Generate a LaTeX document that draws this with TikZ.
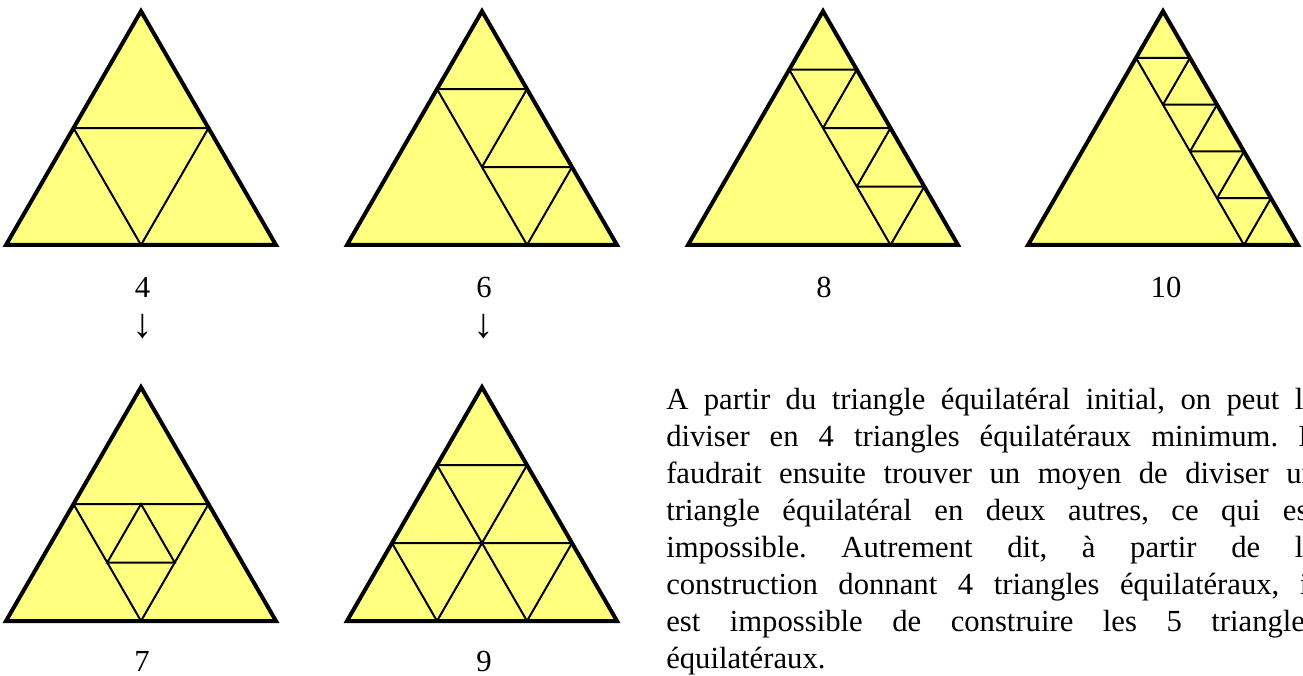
\documentclass[tikz,border=0pt]{standalone}
\usepackage{fontspec}
\setmainfont{Liberation Serif}
\usepackage{tikz}
\usetikzlibrary{positioning}
\definecolor{triyellow}{HTML}{FFFF80}
\tolerance=10000
\hbadness=10000
\frenchspacing

\begin{document}
\begin{tikzpicture}[
    x=0.75pt, y=0.75pt,
    every node/.style={font=\fontsize{23pt}{27.75pt}\selectfont},
    numlabel/.style={anchor=base, inner sep=0pt},
    downlabel/.style={inner sep=0pt, font=\fontsize{31pt}{31pt}\selectfont},
    textblock/.style={anchor=base west, inner sep=0pt, text width=488pt, align=justify},
    outer/.style={draw=black, line width=3pt, fill=triyellow},
    inner/.style={draw=black, line width=1.5pt},
    lattice/.style={x={(202.5pt/#1,0pt)}, y={(101.25pt/#1,175.37pt/#1)}},
]
\useasboundingbox (0,0) rectangle (1303,675);
\clip (0,0) rectangle (1303,675);
% 4
\begin{scope}[shift={(6,430)}, lattice=2]
    \draw[outer] (0,0) -- (2,0) -- (0,2) -- cycle;
    \draw[inner] (1,0) -- (0,1) -- (1,1) -- cycle;
\end{scope}
% 6
\begin{scope}[shift={(347,430)}, lattice=3]
    \draw[outer] (0,0) -- (3,0) -- (0,3) -- cycle;
    \draw[inner] (2,0) -- (0,2);
    \foreach \j in {0,1} \draw[inner] ({2-\j},\j) -- ({2-\j},{\j+1}) -- ({1-\j},{\j+1});
\end{scope}
% 8
\begin{scope}[shift={(688,430)}, lattice=4]
    \draw[outer] (0,0) -- (4,0) -- (0,4) -- cycle;
    \draw[inner] (3,0) -- (0,3);
    \foreach \j in {0,1,2} \draw[inner] ({3-\j},\j) -- ({3-\j},{\j+1}) -- ({2-\j},{\j+1});
\end{scope}
% 10
\begin{scope}[shift={(1028,430)}, lattice=5]
    \draw[outer] (0,0) -- (5,0) -- (0,5) -- cycle;
    \draw[inner] (4,0) -- (0,4);
    \foreach \j in {0,1,2,3} \draw[inner] ({4-\j},\j) -- ({4-\j},{\j+1}) -- ({3-\j},{\j+1});
\end{scope}
% 7
\begin{scope}[shift={(6,54)}, lattice=2]
    \draw[outer] (0,0) -- (2,0) -- (0,2) -- cycle;
    \draw[inner] (1,0) -- (0,1) -- (1,1) -- cycle;
    \draw[inner] (0.5,1) -- (1,0.5) -- (0.5,0.5) -- cycle;
\end{scope}
% 9
\begin{scope}[shift={(347,54)}, lattice=3]
    \draw[outer] (0,0) -- (3,0) -- (0,3) -- cycle;
    \foreach \i in {1,2} \draw[inner] (0,\i) -- ({3-\i},\i) (\i,0) -- (\i,{3-\i}) (\i,0) -- (0,\i);
\end{scope}
\node[numlabel] (n4) at (142.5,377) {4};
\node[numlabel] (n6) at (484,377) {6};
\node[numlabel] (n8) at (824,377) {8};
\node[numlabel] (n10) at (1166,377) {10};
\node[downlabel] (d4) at (143,348.5) {↓};
\node[downlabel] (d6) at (484,348.5) {↓};
\node[numlabel] (n7) at (142,4) {7};
\node[numlabel] (n9) at (484,4) {9};
\node[textblock] (expl) at (666,265) {A partir du triangle équilatéral initial, on peut le\linebreak
diviser en 4 triangles équilatéraux minimum. Il\linebreak
faudrait ensuite trouver un moyen de diviser un\linebreak
triangle équilatéral en deux autres, ce qui est\linebreak
impossible. Autrement dit, à partir de la\linebreak
construction donnant 4 triangles équilatéraux, il\linebreak
est impossible de construire les 5 triangles\linebreak
équilatéraux.};
\end{tikzpicture}
\end{document}
